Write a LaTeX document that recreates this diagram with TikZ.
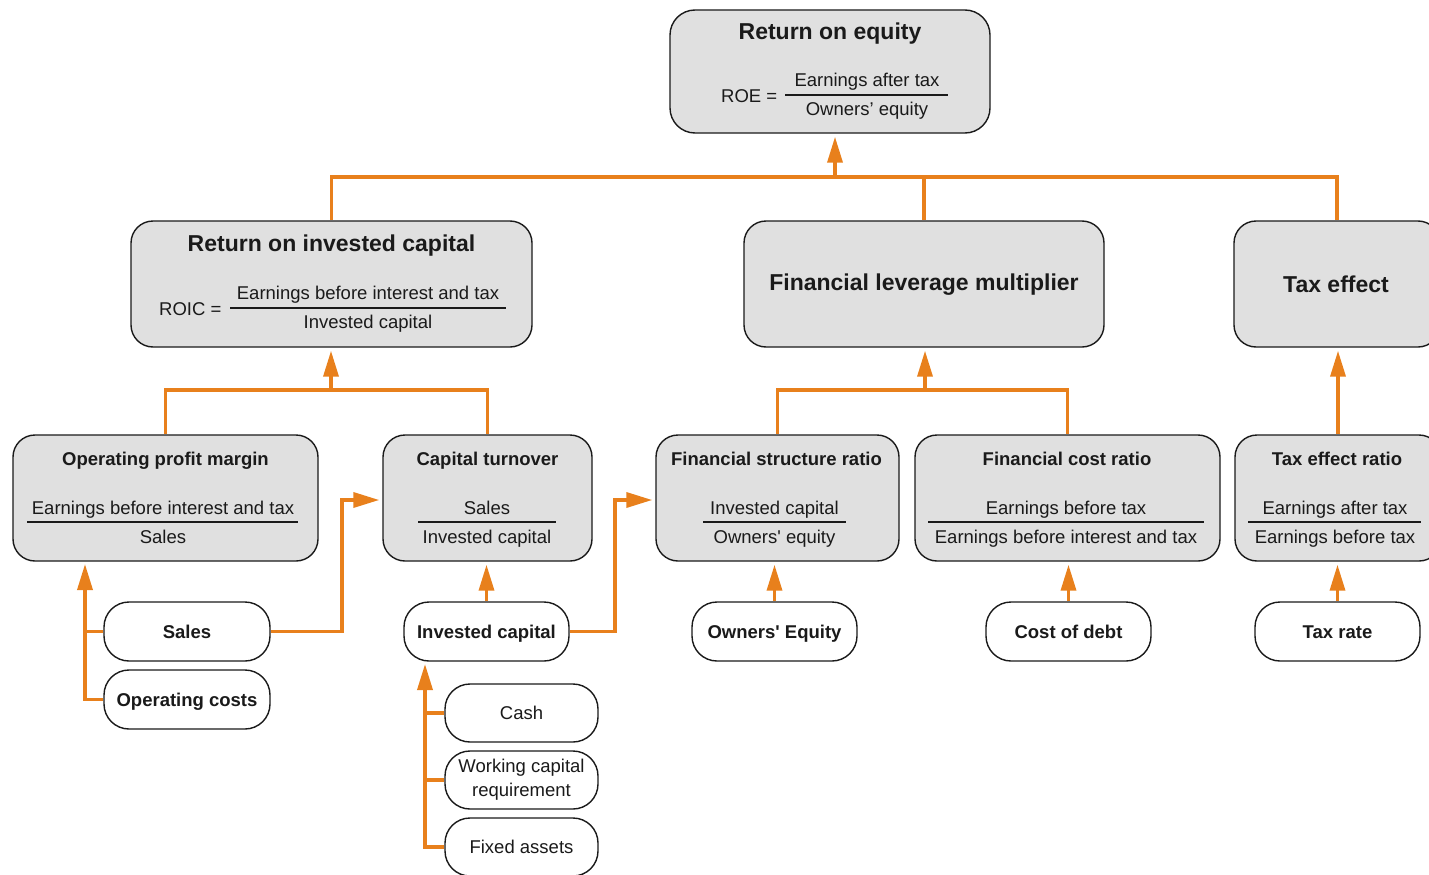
\documentclass[tikz,border=0pt]{standalone}
\usepackage{fontspec}
\setmainfont{Liberation Sans}[Ligatures=TeXOff]
\usetikzlibrary{arrows.meta,calc}
\definecolor{org}{HTML}{E8801C}
\definecolor{boxgray}{HTML}{E0E0E0}
\definecolor{ink}{HTML}{1A1A1A}
\newcommand\ftitle{\fontsize{23}{27}\selectfont\bfseries}
\newcommand\flab{\fontsize{18.5}{24}\selectfont\bfseries}
\newcommand\ftxt{\fontsize{18.5}{24}\selectfont}
\begin{document}
\begin{tikzpicture}[x=1pt,y=-1pt,
  gbox/.style={draw=ink, line width=1.4pt, fill=boxgray, rounded corners=22pt, inner sep=0pt},
  wbox/.style={draw=ink, line width=1.4pt, fill=white, rounded corners=25pt, inner sep=0pt,
               minimum width=166pt, minimum height=59pt, font=\flab, text height=13.2pt, text depth=0pt, text=ink},
  sbox/.style={draw=ink, line width=1.4pt, fill=white, rounded corners=25pt, inner sep=0pt,
               minimum width=153pt, minimum height=58pt, font=\ftxt, text=ink, align=center},
  txt/.style={inner sep=0pt, anchor=base, text=ink},
  frac/.style={draw=ink, line width=1.3pt},
  wire/.style={draw=org, line width=3.5pt},
  arr/.style={wire, -{Triangle[length=26pt,width=15pt]}, shorten >=3pt}]
\useasboundingbox (0,0) rectangle (1429,875);
\clip (0,0) rectangle (1429,875);

% ---------- top: Return on equity ----------
\node[gbox, minimum width=320pt, minimum height=123pt, rounded corners=25pt] (roe) at (830,71.5) {};
\node[txt] (roeT) at (830,40) {\ftitle Return on equity};
\node[txt, anchor=base west] (roeE) at (721,102) {\ftxt ROE =};
\node[txt] (roeN) at (867,86) {\ftxt Earnings after tax};
\node[txt] (roeD) at (867,115) {\ftxt Owners’ equity};
\draw[frac] (785,95) -- (948,95);

% ---------- second row ----------
\node[gbox, minimum width=401pt, minimum height=126pt] (roic) at (331.5,284) {};
\node[txt] (roicT) at (331.5,251) {\ftitle Return on invested capital};
\node[txt, anchor=base west] (roicE) at (159,315) {\ftxt ROIC =};
\node[txt] (roicN) at (368,299) {\ftxt Earnings before interest and tax};
\node[txt] (roicD) at (368,328) {\ftxt Invested capital};
\draw[frac] (230,308) -- (506,308);

\node[gbox, minimum width=360pt, minimum height=126pt] (flm) at (924,284) {};
\node[txt] (flmT) at (924,290) {\ftitle Financial leverage multiplier};

\node[gbox, minimum width=206pt, minimum height=126pt] (tax) at (1337,284) {};
\node[txt] (taxT) at (1336,292) {\ftitle Tax effect};

% ---------- third row ----------
\node[gbox, minimum width=305pt, minimum height=126pt] (opm) at (165.5,498) {};
\node[txt] (opmT) at (165.5,465) {\flab Operating profit margin};
\node[txt] (opmN) at (163,514) {\ftxt Earnings before interest and tax};
\node[txt] (opmD) at (163,543) {\ftxt Sales};
\draw[frac] (27,522) -- (298,522);

\node[gbox, minimum width=209pt, minimum height=126pt] (ct) at (487.5,498) {};
\node[txt] (ctT) at (487.5,465) {\flab Capital turnover};
\node[txt] (ctN) at (487,514) {\ftxt Sales};
\node[txt] (ctD) at (487,543) {\ftxt Invested capital};
\draw[frac] (418,522) -- (556,522);

\node[gbox, minimum width=243pt, minimum height=126pt] (fsr) at (777.5,498) {};
\node[txt] (fsrT) at (776.5,465) {\flab Financial structure ratio};
\node[txt] (fsrN) at (774.5,514) {\ftxt Invested capital};
\node[txt] (fsrD) at (774.5,543) {\ftxt Owners' equity};
\draw[frac] (703,522) -- (846,522);

\node[gbox, minimum width=305pt, minimum height=126pt] (fcr) at (1067.5,498) {};
\node[txt] (fcrT) at (1067,465) {\flab Financial cost ratio};
\node[txt] (fcrN) at (1066,514) {\ftxt Earnings before tax};
\node[txt] (fcrD) at (1066,543) {\ftxt Earnings before interest and tax};
\draw[frac] (928,522) -- (1204,522);

\node[gbox, minimum width=206pt, minimum height=126pt] (ter) at (1338,498) {};
\node[txt] (terT) at (1337,465) {\flab Tax effect ratio};
\node[txt] (terN) at (1335,514) {\ftxt Earnings after tax};
\node[txt] (terD) at (1335,543) {\ftxt Earnings before tax};
\draw[frac] (1248,522) -- (1421,522);

% ---------- drivers ----------
\node[wbox] (sales) at (187,631.5) {Sales};
\node[wbox] (opc) at (187,699.5) {Operating costs};
\node[wbox, minimum width=165pt] (ic) at (486.5,631.5) {Invested capital};
\node[wbox, minimum width=165pt] (oe) at (774.5,631.5) {Owners' Equity};
\node[wbox, minimum width=165pt] (cod) at (1068.5,631.5) {Cost of debt};
\node[wbox, minimum width=165pt] (tr) at (1337.5,631.5) {Tax rate};

\node[sbox] (cash) at (521.5,713) {Cash};
\node[sbox] (wcr) at (521.5,780) {Working capital\\requirement};
\node[sbox] (fa) at (521.5,847) {Fixed assets};

% ---------- connectors ----------
\coordinate (j1) at (835,177);
\draw[wire] (roic.north) |- (j1) -| (tax.north);
\draw[wire] (flm.north) -- (flm.north |- j1);
\draw[arr] (j1) -- (roe.south -| j1);

\coordinate (j2) at (331,390);
\draw[wire] (opm.north) |- (j2) -| (ct.north);
\draw[arr] (j2) -- (roic.south -| j2);

\coordinate (j3) at (925,390);
\draw[wire] (fsr.north) |- (j3) -| (fcr.north);
\draw[arr] (j3) -- (flm.south -| j3);

\draw[arr] (ter.north) -- (tax.south -| ter.north);

\coordinate (ka) at (85,561);
\draw[arr] (opc.west) -| (ka);
\draw[wire] (sales.west) -- (sales.west -| ka);

\coordinate (kb) at (342,500);
\draw[arr] (sales.east) -| (kb) -- (ct.west |- kb);

\draw[arr] (ic.north) -- (ic.north |- ct.south);

\coordinate (kc) at (615,500);
\draw[arr] (ic.east) -| (kc) -- (fsr.west |- kc);

\draw[arr] (oe.north) -- (oe.north |- fsr.south);
\draw[arr] (cod.north) -- (cod.north |- fcr.south);
\draw[arr] (tr.north) -- (tr.north |- ter.south);

\coordinate (kd) at (425,661);
\draw[arr] (fa.west) -| (kd);
\draw[wire] (cash.west) -- (cash.west -| kd);
\draw[wire] (wcr.west) -- (wcr.west -| kd);
\end{tikzpicture}
\end{document}
